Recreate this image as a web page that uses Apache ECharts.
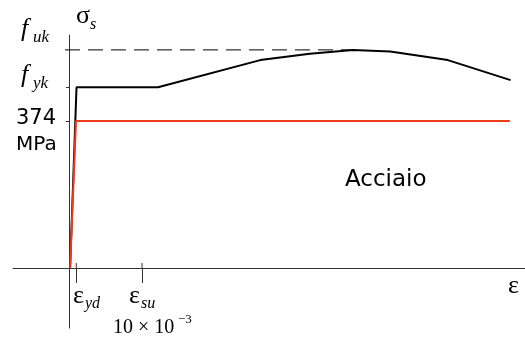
<!DOCTYPE html>
<head>
    <meta charset="utf-8">
    <title>Acciaio</title>
</head>
<body style="margin:0">
<div id="main" style="width:525px;height:338px"></div>
<script src="https://cdn.jsdelivr.net/npm/echarts@6/dist/echarts.min.js"></script>
<script type="text/javascript">
// strain in per mille (x), stress in MPa (y)
var curveStrain = [0.15, 1.03, 12.2, 26.2, 33.0, 38.9, 44.0, 51.9, 60.5];
var curveStress = [0, 460, 460, 529, 545, 555, 551, 529, 478];
var designStrain = [0.15, 0.96, 60.4];
var designStress = [0, 374, 374];
var fukStrain = [-0.55, 39.2];
var fukValue = 555;
var xTicks = [1.0, 10];   // eps_yd, eps_su
var yTicks = [460, 374];  // f_yk, 374 MPa

function pairs(xs, ys) {
    var out = [];
    for (var i = 0; i < xs.length; i++) out.push([xs[i], ys[i]]);
    return out;
}

var serif = '"Liberation Serif", "DejaVu Serif", serif';
var sans = '"DejaVu Sans", sans-serif';
function txt(x, y, s, size, family, italic) {
    return {
        type: 'text', x: x, y: y, silent: true,
        style: {
            text: s, fill: '#000', align: 'left', verticalAlign: 'middle',
            font: (italic ? 'italic ' : '') + size + 'px ' + family
        }
    };
}

// ticks on the strain axis also poke a little above the axis line
var tickSeries = xTicks.map(function (t) {
    return {
        type: 'line', data: [[t, 0], [t, 12.7]], symbol: 'none',
        lineStyle: {color: '#333', width: 1}, z: 1
    };
});

var myChart = echarts.init(document.getElementById('main'));
var option = {
    animation: false,
    grid: {left: 13, right: 0, top: 35, bottom: 10},
    xAxis: {
        type: 'value', min: -7.671, max: 62.47,
        splitLine: {show: false},
        axisLine: {onZero: true, lineStyle: {color: '#333', width: 1}},
        axisTick: {show: true, customValues: xTicks, length: 15, lineStyle: {color: '#333'}},
        axisLabel: {show: false}
    },
    yAxis: {
        type: 'value', min: -152.7, max: 592.9,
        splitLine: {show: false},
        axisLine: {onZero: true, lineStyle: {color: '#333', width: 1}},
        axisTick: {show: true, customValues: yTicks, length: 3, lineStyle: {color: '#333'}},
        axisLabel: {show: false}
    },
    series: [
        {
            type: 'line', data: pairs(fukStrain, [fukValue, fukValue]), symbol: 'none',
            lineStyle: {color: '#000', width: 1, type: [15, 8]}, z: 1
        },
        {
            type: 'line', data: pairs(curveStrain, curveStress), symbol: 'none',
            lineStyle: {color: '#000', width: 2}, z: 2
        },
        {
            type: 'line', data: pairs(designStrain, designStress), symbol: 'none',
            lineStyle: {color: '#f03a1a', width: 2}, z: 3
        }
    ].concat(tickSeries),
    graphic: [
        txt(21, 29.5, 'f', 26, serif, true),
        txt(33, 37.5, 'uk', 17, serif, true),
        txt(21, 75.5, 'f', 26, serif, true),
        txt(33, 83.5, 'yk', 17, serif, true),
        txt(76, 16.5, 'σ', 26, serif, false),
        txt(90, 25, 's', 16, serif, true),
        txt(16, 119, '374', 21, sans, false),
        txt(16, 145, 'MPa', 20, sans, false),
        txt(73, 296.5, 'ε', 26, serif, false),
        txt(85, 304, 'yd', 16, serif, true),
        txt(129, 296.5, 'ε', 26, serif, false),
        txt(141, 304, 'su', 16, serif, true),
        txt(113, 328, '10 × 10', 20, serif, false),
        txt(178, 320, '−3', 13, serif, false),
        txt(508, 286.5, 'ε', 26, serif, false),
        txt(345, 180, 'Acciaio', 23, '"Comic Sans MS", ' + sans, false)
    ]
};
myChart.setOption(option);
</script>
</body>
